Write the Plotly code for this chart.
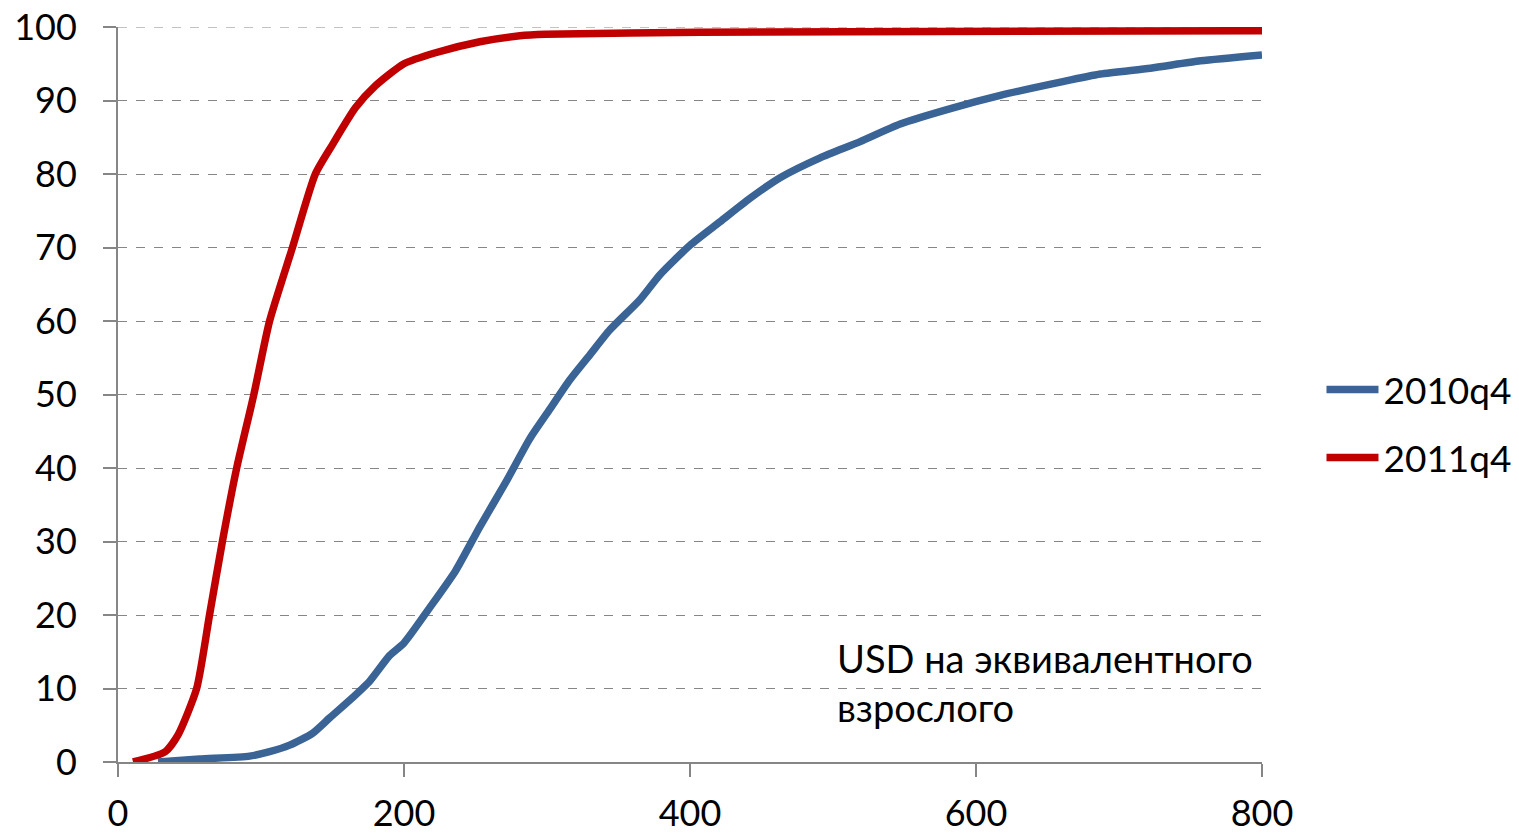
import plotly.graph_objects as go

x_2010 = [28, 57, 92, 106, 120, 136, 148, 162, 176, 190, 200, 218, 236, 253, 271, 288, 302, 316, 330, 344, 365, 379, 400, 421, 442, 463, 491, 519, 547, 584, 617, 659, 687, 722, 757, 800]
y_2010 = [0, 0.4, 0.8, 1.4, 2.3, 3.9, 6, 8.4, 11, 14.5, 16.2, 21, 26, 32, 38, 44, 48, 52, 55.4, 58.8, 62.9, 66.3, 70.3, 73.5, 76.7, 79.5, 82.2, 84.4, 86.8, 89, 90.7, 92.5, 93.6, 94.4, 95.4, 96.2]

x_2011 = [10.5, 33, 42, 55, 64, 73, 83, 95, 106, 122, 138, 150, 166, 180, 200, 222, 253, 281, 299, 407, 800]
y_2011 = [0, 1.4, 3.7, 10, 20, 30, 40, 50, 60, 70, 80, 84, 89, 92, 95, 96.5, 98, 98.8, 99, 99.3, 99.5]

series_names = ["2010q4", "2011q4"]
x_ticks = [0, 200, 400, 600, 800]
y_ticks = [0, 10, 20, 30, 40, 50, 60, 70, 80, 90, 100]
note = "USD на эквивалентного<br>взрослого"

FONT = "Lato, Noto Sans, sans-serif"
GRAY = "#868686"

fig = go.Figure()
# dashed gridline at the top edge (plotly hides gridlines at the range boundary)
fig.add_shape(type="line", xref="paper", x0=0, x1=1, yref="y", y0=y_ticks[-1], y1=y_ticks[-1],
              line=dict(color=GRAY, width=1, dash="dash"), layer="below")
fig.add_trace(go.Scatter(x=x_2010, y=y_2010, mode="lines", name=series_names[0],
                         legendgroup="a",
                         line=dict(color="#3A6396", width=7.5, shape="spline", smoothing=0.6)))
fig.add_trace(go.Scatter(x=x_2011, y=y_2011, mode="lines", name=series_names[1],
                         legendgroup="b",
                         line=dict(color="#C00000", width=7.5, shape="spline", smoothing=0.6)))

fig.add_annotation(x=0.627, y=0.175, xref="paper", yref="paper", xanchor="left", yanchor="top",
                   text=note, showarrow=False, align="left",
                   font=dict(family=FONT, size=38, color="black"))

fig.update_layout(
    width=1519, height=834,
    margin=dict(l=118, r=257, t=27, b=72, autoexpand=False),
    paper_bgcolor="white", plot_bgcolor="white",
    font=dict(family=FONT, size=36, color="black"),
    showlegend=True,
    legend=dict(x=1.052, xanchor="left", y=0.46, yanchor="middle",
                font=dict(family=FONT, size=37, color="black"),
                tracegroupgap=17, itemwidth=52, bgcolor="rgba(0,0,0,0)"),
)
fig.update_xaxes(range=[0, 800], tickvals=x_ticks, showgrid=False, zeroline=False,
                 showline=True, linecolor=GRAY, linewidth=2, automargin=False,
                 ticks="outside", ticklen=13, tickcolor=GRAY, tickwidth=2,
                 ticklabelstandoff=6, ticklabeloverflow="allow")
fig.update_yaxes(range=[0, 100], tickvals=y_ticks, showgrid=True, gridcolor=GRAY, gridwidth=1,
                 griddash="dash", zeroline=False, automargin=False,
                 showline=True, linecolor=GRAY, linewidth=2,
                 ticks="outside", ticklen=13, tickcolor=GRAY, tickwidth=2,
                 ticklabelstandoff=19, ticklabeloverflow="allow")

fig.write_html("out.html", config={"displayModeBar": False},
               post_script="document.body.style.margin='0';document.body.style.overflow='hidden';")
